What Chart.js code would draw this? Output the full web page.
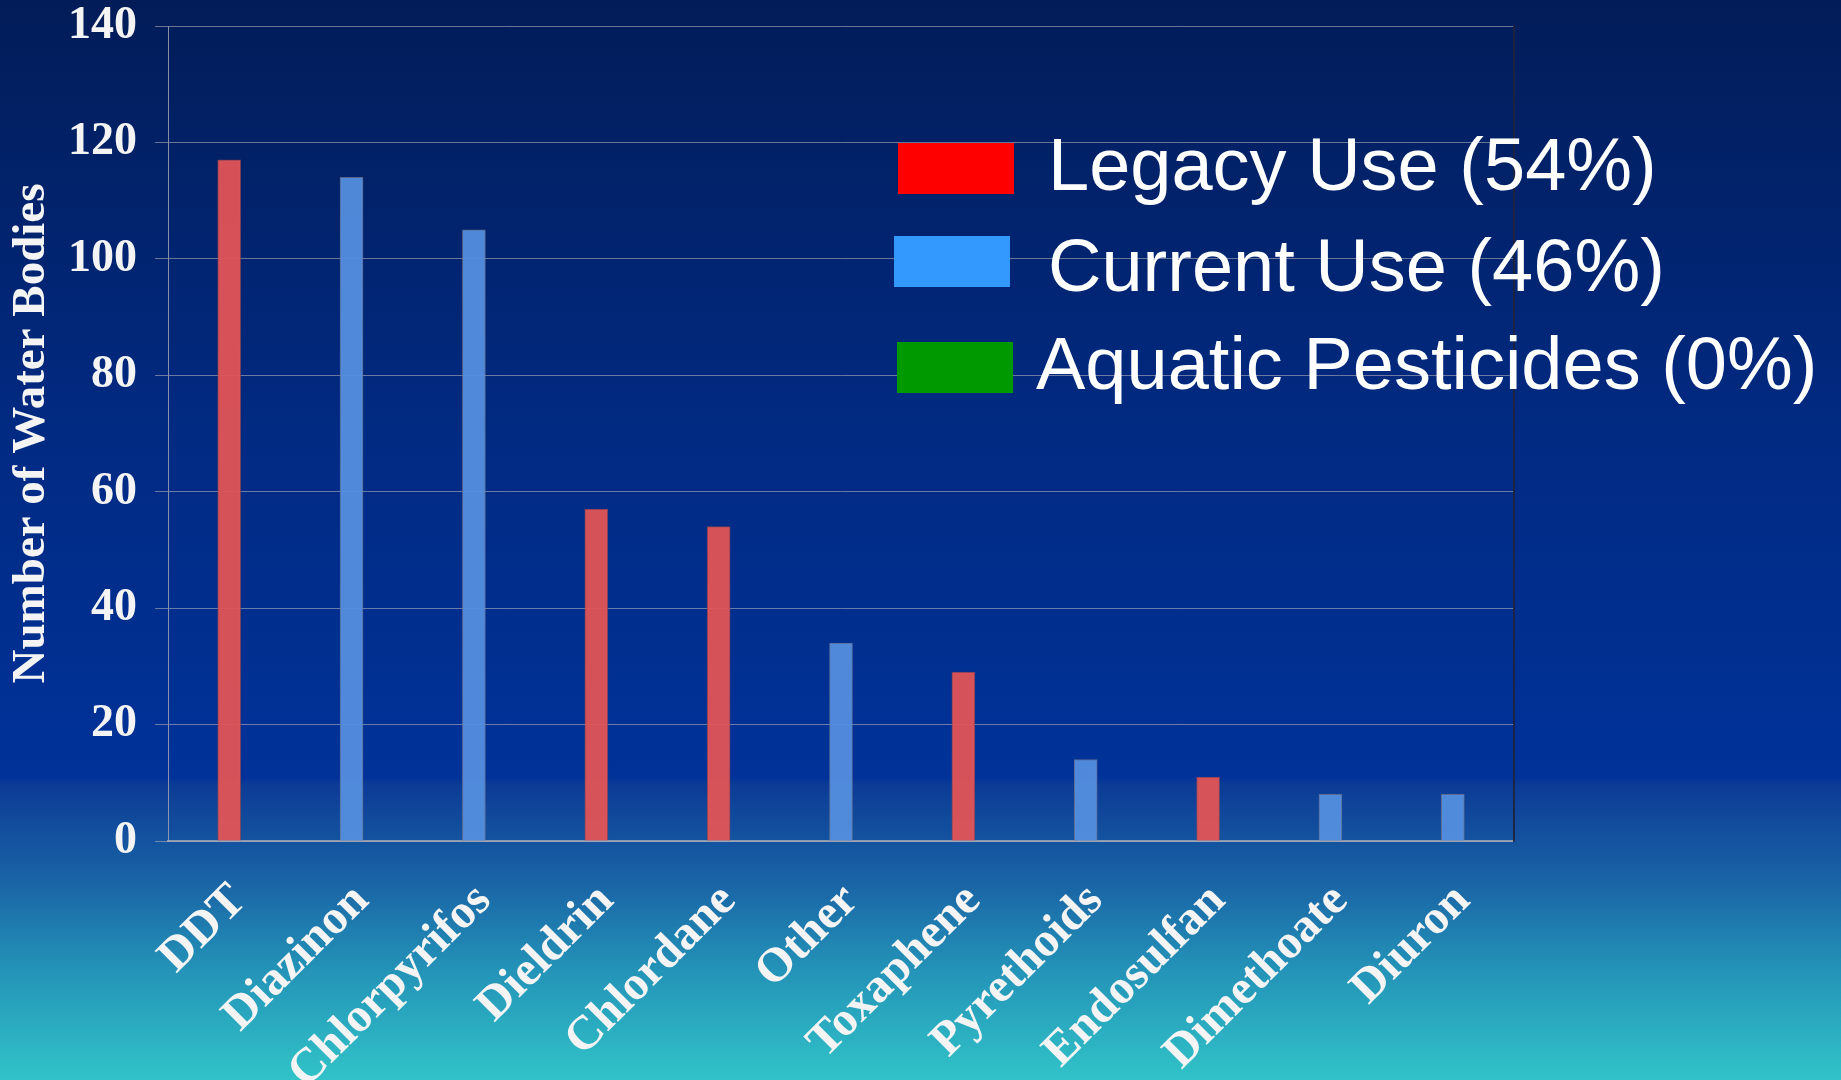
<!DOCTYPE html>
<html>
<head>
<meta charset="utf-8">
<script src="https://cdn.jsdelivr.net/npm/chart.js@4"></script>
<style>
  html, body { margin: 0; padding: 0; overflow: hidden; background: #021d5a; }
  #wrap { position: relative; width: 1841px; height: 1080px; }
  #legend { position: absolute; left: 0; top: 0; width: 0; height: 0; font-family: "Liberation Sans", Arial, sans-serif; }
  .sw { position: absolute; width: 116px; height: 51px; }
  .lt { position: absolute; font-size: 74px; line-height: 1; color: #fff; white-space: nowrap; }
</style>
</head>
<body>
<div id="wrap">
  <canvas id="chart"></canvas>
  <div id="legend"></div>
</div>
<script>
const categories = ["DDT", "Diazinon", "Chlorpyrifos", "Dieldrin", "Chlordane", "Other",
  "Toxaphene", "Pyrethoids", "Endosulfan", "Dimethoate", "Diuron"];
const legacyUse = [117, null, null, 57, 54, null, 29, null, 11, null, null];
const currentUse = [null, 114, 105, null, null, 34, null, 14, null, 8, 8];
const aquaticPesticides = [null, null, null, null, null, null, null, null, null, null, null];
const seriesLabels = ["Legacy Use (54%)", "Current Use (46%)", "Aquatic Pesticides (0%)"];
const yTicks = [0, 20, 40, 60, 80, 100, 120, 140];

const serif = "'Liberation Serif', 'Times New Roman', serif";

// slide background: navy top, teal bottom
const bgPlugin = {
  id: "bg",
  beforeDraw(chart) {
    const { ctx, width, height } = chart;
    const g = ctx.createLinearGradient(0, 0, 0, height);
    g.addColorStop(0, "#021c58");
    g.addColorStop(0.4, "#012a82");
    g.addColorStop(0.72, "#003299");
    g.addColorStop(0.726, "#0c3b96");
    g.addColorStop(0.82, "#1a66a6");
    g.addColorStop(0.9, "#2494b8");
    g.addColorStop(1, "#31c3c8");
    ctx.save();
    ctx.fillStyle = g;
    ctx.fillRect(0, 0, width, height);
    ctx.restore();
  }
};

const chart = new Chart(document.getElementById("chart"), {
  type: "bar",
  data: {
    labels: categories,
    datasets: [
      {
        label: seriesLabels[0],
        data: legacyUse,
        backgroundColor: "rgba(226, 84, 86, 0.95)",
        borderColor: "rgba(150, 70, 80, 0.8)",
        borderWidth: 1,
        legendColor: "#ff0000",
      },
      {
        label: seriesLabels[1],
        data: currentUse,
        backgroundColor: "rgba(84, 142, 222, 0.95)",
        borderColor: "rgba(110, 120, 150, 0.8)",
        borderWidth: 1,
        legendColor: "#3399ff",
      },
      {
        label: seriesLabels[2],
        data: aquaticPesticides,
        backgroundColor: "#009900",
        legendColor: "#009900",
      },
    ],
  },
  options: {
    responsive: true,
    maintainAspectRatio: false,
    animation: false,
    layout: { padding: { top: 26, right: 327, bottom: 0, left: 0 } },
    datasets: { bar: { grouped: false, barThickness: 23 } },
    plugins: {
      legend: { display: false },
      tooltip: { enabled: false },
    },
    scales: {
      x: {
        grid: { display: false, drawTicks: false },
        border: { display: true, color: "rgba(170, 170, 180, 0.8)", width: 2 },
        ticks: {
          color: "#f4f4f4",
          font: { family: serif, size: 48, weight: "bold" },
          minRotation: 45,
          maxRotation: 45,
          autoSkip: false,
          padding: 32,
          labelOffset: 10,
        },
        afterFit(scale) { scale.height = 239; },
      },
      y: {
        min: 0,
        max: 140,
        afterBuildTicks(scale) { scale.ticks = yTicks.map(v => ({ value: v })); },
        grid: { color: "rgba(175, 175, 185, 0.6)", lineWidth: 1, tickLength: 13 },
        border: { display: true, color: "rgba(170, 170, 180, 0.8)" },
        ticks: {
          color: "#f4f4f4",
          font: { family: serif, size: 46, weight: "bold", lineHeight: 1 },
          padding: 18,
        },
        title: {
          display: true,
          text: "Number of Water Bodies",
          color: "#f4f4f4",
          font: { family: serif, size: 47, weight: "bold" },
          padding: { top: 4, bottom: 0 },
        },
        afterFit(scale) {
          scale.width = 168;
          scale.paddingTop = 0;
          scale.paddingBottom = 0;
        },
      },
      y2: {
        position: "right",
        min: 0,
        max: 140,
        grid: { display: false, drawTicks: false },
        ticks: { display: false },
        border: { display: true, color: "rgba(30, 35, 60, 0.9)", width: 2 },
        afterFit(scale) {
          scale.width = 0;
          scale.paddingTop = 0;
          scale.paddingBottom = 0;
        },
      },
    },
  },
  plugins: [bgPlugin],
});

// legend drawn as real text, overlapping the plot like the slide
const legendPos = [
  { box: [898, 143], text: [1048, 128] },
  { box: [894, 236], text: [1048, 229] },
  { box: [897, 342], text: [1036, 327] },
];
const legendEl = document.getElementById("legend");
chart.data.datasets.forEach((ds, i) => {
  const p = legendPos[i];
  const sw = document.createElement("div");
  sw.className = "sw";
  sw.style.left = p.box[0] + "px";
  sw.style.top = p.box[1] + "px";
  sw.style.background = ds.legendColor;
  const t = document.createElement("div");
  t.className = "lt";
  t.style.left = p.text[0] + "px";
  t.style.top = p.text[1] + "px";
  t.textContent = ds.label;
  legendEl.appendChild(sw);
  legendEl.appendChild(t);
});
</script>
</body>
</html>
